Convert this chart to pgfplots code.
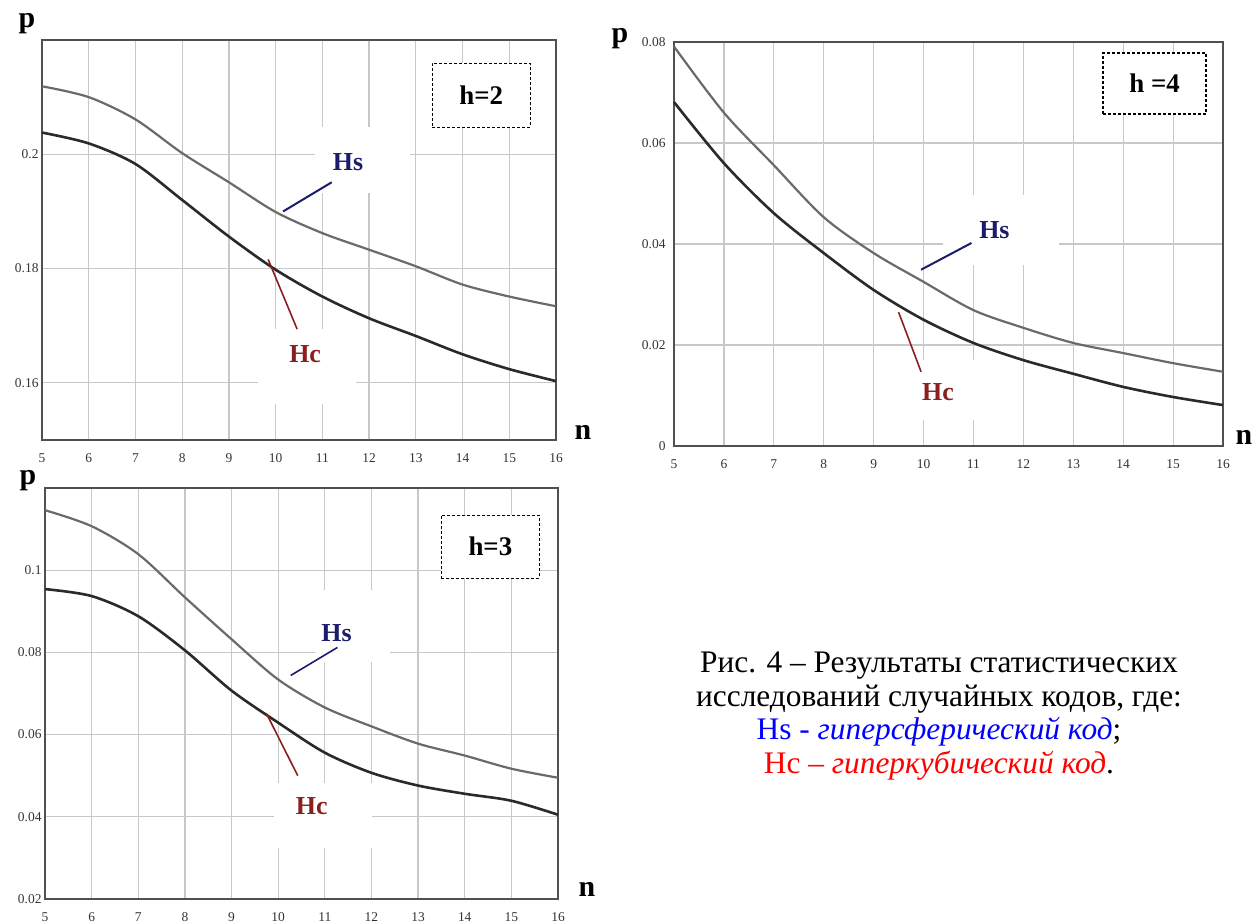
\documentclass[border=0pt]{standalone}
\usepackage{fontspec}
\setmainfont{Liberation Serif}
\usepackage{pgfplots}
\pgfplotsset{compat=1.18}

\definecolor{gridc}{HTML}{C8C8C8}
\definecolor{framec}{HTML}{505050}
\definecolor{hsc}{HTML}{6A6A6A}
\definecolor{hcc}{HTML}{2A2A2A}
\definecolor{navy}{HTML}{1C1C6E}
\definecolor{dred}{HTML}{8B1E1E}
\definecolor{capblue}{HTML}{0000FF}
\definecolor{capred}{HTML}{FF0000}

\pgfplotstableread{
n hs hc
5 0.2119 0.2038
6 0.2100 0.2019
7 0.2061 0.1983
8 0.2002 0.1920
9 0.1951 0.1856
10 0.1899 0.1798
11 0.1862 0.1751
12 0.1833 0.1713
13 0.1804 0.1682
14 0.1772 0.1650
15 0.1751 0.1624
16 0.1734 0.1603
}\tabA

\pgfplotstableread{
n hs hc
5 0.0791 0.0681
6 0.0660 0.0560
7 0.0556 0.0461
8 0.0453 0.0382
9 0.0382 0.0309
10 0.0325 0.0250
11 0.0269 0.0204
12 0.0234 0.0170
13 0.0204 0.0143
14 0.0184 0.0117
15 0.0164 0.0097
16 0.0147 0.0081
}\tabB

\pgfplotstableread{
n hs hc
5 0.1146 0.0954
6 0.1107 0.0937
7 0.1039 0.0888
8 0.0934 0.0805
9 0.0832 0.0707
10 0.0734 0.0629
11 0.0666 0.0556
12 0.0620 0.0507
13 0.0578 0.0476
14 0.0549 0.0456
15 0.0517 0.0439
16 0.0495 0.0405
}\tabC

\pgfplotsset{
 myax/.style={
  scale only axis, anchor=south west,
  xmin=5, xmax=16, xtick={5,...,16},
  scaled y ticks=false, scaled x ticks=false,
  grid=major, grid style={gridc, line width=1.2bp},
  axis line style={framec, line width=2.5bp},
  major tick length=0pt,
  tick label style={font=\fontsize{13.5}{15}\selectfont, text=black!80},
  /pgf/number format/assume math mode=true,
  xticklabel style={yshift=-10bp},
  clip=false,
 },
 hs/.style={hsc, line width=2.2bp, smooth},
 hc/.style={hcc, line width=2.6bp, smooth},
}
\tikzset{
 hbox/.style={draw=black, dash pattern=on 3bp off 2bp, line width=1.3bp, fill=white,
   font=\fontsize{27}{30}\selectfont\bfseries, inner sep=0pt},
 lab/.style={font=\fontsize{26}{30}\selectfont\bfseries, inner sep=0pt},
 pn/.style={font=\fontsize{30}{32}\selectfont\bfseries, inner sep=0pt},
}

\begin{document}
\begin{tikzpicture}[x=1bp,y=1bp]
\path[use as bounding box] (0,0) rectangle (1255,923);

% ---- h=2 ----
\begin{axis}[myax, at={(42bp,483bp)}, width=514bp, height=400bp,
  ymin=0.15, ymax=0.22, ytick={0.16,0.18,0.2},
  yticklabels={0.16,0.18,0.2}]
\fill[white] (axis cs:10.85,0.2047) rectangle (axis cs:12.88,0.1932);
\fill[white] (axis cs:9.63,0.1694) rectangle (axis cs:11.72,0.1563);
\addplot[hs] table[x=n,y=hs]{\tabA};
\addplot[hc] table[x=n,y=hc]{\tabA};
\node[hbox, minimum width=98bp, minimum height=64bp] at (axis cs:14.4,0.2103) {h=2};
\draw[navy, line width=2bp] (axis cs:10.16,0.1900) -- (axis cs:11.2,0.1951);
\draw[dred, line width=1.6bp] (axis cs:9.84,0.1816) -- (axis cs:10.46,0.1694);
\node[lab, text=navy] at (axis cs:11.55,0.1986) {Hs};
\node[lab, text=dred] at (axis cs:10.63,0.1650) {Hc};
\end{axis}
\node[pn] at (27,899) {p};
\node[pn] at (583,491) {n};

% ---- h=4 ----
\begin{axis}[myax, at={(674bp,477bp)}, width=549bp, height=404bp,
  ymin=0, ymax=0.08, ytick={0,0.02,0.04,0.06,0.08},
  yticklabels={0,0.02,0.04,0.06,0.08}, yticklabel style={xshift=-5bp}]
\fill[white] (axis cs:10.39,0.0497) rectangle (axis cs:12.71,0.0358);
\fill[white] (axis cs:9.35,0.0170) rectangle (axis cs:11.36,0.0051);
\addplot[hs] table[x=n,y=hs]{\tabB};
\addplot[hc] table[x=n,y=hc]{\tabB};
\node[hbox, minimum width=103bp, minimum height=61bp] at (axis cs:14.63,0.0718) {h =4};
\draw[navy, line width=2bp] (axis cs:9.95,0.0349) -- (axis cs:10.96,0.0402);
\draw[dred, line width=1.6bp] (axis cs:9.5,0.0265) -- (axis cs:9.95,0.0147);
\node[lab, text=navy] at (axis cs:11.42,0.0428) {Hs};
\node[lab, text=dred] at (axis cs:10.29,0.0107) {Hc};
\end{axis}
\node[pn] at (620,884) {p};
\node[pn] at (1244,486) {n};

% ---- h=3 ----
\begin{axis}[myax, at={(45bp,24bp)}, width=513bp, height=411bp,
  ymin=0.02, ymax=0.12, ytick={0.02,0.04,0.06,0.08,0.1},
  yticklabels={0.02,0.04,0.06,0.08,0.1}]
\fill[white] (axis cs:10.78,0.0951) rectangle (axis cs:12.39,0.0776);
\fill[white] (axis cs:9.92,0.0483) rectangle (axis cs:12.02,0.0324);
\addplot[hs] table[x=n,y=hs]{\tabC};
\addplot[hc] table[x=n,y=hc]{\tabC};
\node[hbox, minimum width=98bp, minimum height=63bp] at (axis cs:14.55,0.1057) {h=3};
\draw[navy, line width=1.6bp] (axis cs:10.27,0.0744) -- (axis cs:11.27,0.0812);
\draw[dred, line width=1.6bp] (axis cs:9.75,0.0651) -- (axis cs:10.42,0.0500);
\node[lab, text=navy] at (axis cs:11.25,0.0846) {Hs};
\node[lab, text=dred] at (axis cs:10.72,0.0427) {Hc};
\end{axis}
\node[pn] at (28,442) {p};
\node[pn] at (587,34) {n};

% ---- caption ----
\node[align=center, font=\fontsize{31.5}{34}\selectfont, inner sep=0pt] at (939,207) {%
Рис. 4 – Результаты статистических\\
исследований случайных кодов, где:\\
{\color{capblue}Hs - \textit{гиперсферический код}};\\
{\color{capred}Hc – \textit{гиперкубический код}}.};
\end{tikzpicture}
\end{document}
